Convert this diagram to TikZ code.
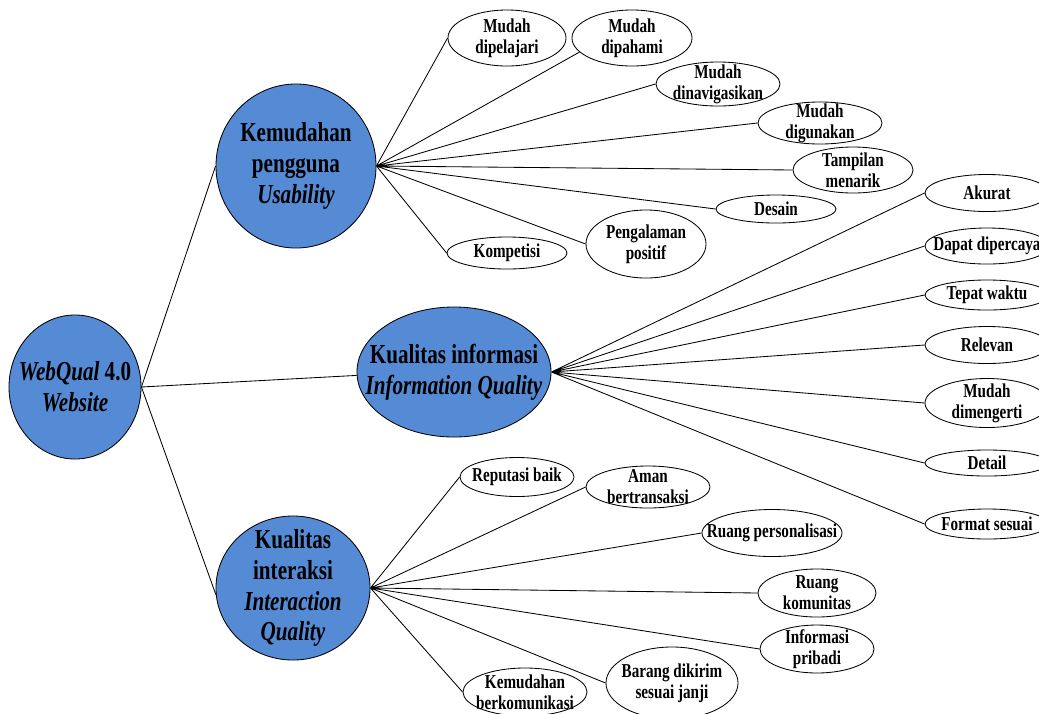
\documentclass[tikz,border=0pt]{standalone}
\usepackage{fontspec}
\setmainfont[FakeStretch=0.77]{Liberation Serif}
\usetikzlibrary{shapes.geometric}
\definecolor{topicblue}{RGB}{85,138,213}
\begin{document}
\begin{tikzpicture}[x=0.025cm,y=-0.025cm,line width=0.6pt,
        topic/.style={ellipse,draw,fill=topicblue,inner sep=-30pt,align=center,
            font=\fontsize{19.5}{22}\selectfont\bfseries},
        item/.style={ellipse,draw,fill=white,inner sep=-30pt,align=center,
            font=\fontsize{14}{15}\selectfont\bfseries}]
        % Fix page size
        \useasboundingbox (0,0) rectangle (1039,713);
        \clip (0,0) rectangle (1039,713);
        % Draw main topics
        \node[topic,minimum width=3.3cm,minimum height=3.6cm] (webqual) at (75,387) {\textit{WebQual} 4.0\\\textit{Website}};
        \node[topic,minimum width=4cm,minimum height=4.1cm] (usab) at (296,166) {Kemudahan\\pengguna\\\textit{Usability}};
        \node[topic,minimum width=4.85cm,minimum height=3.25cm] (info) at (454,372) {Kualitas informasi\\\textit{Information Quality}};
        \node[topic,minimum width=3.85cm,minimum height=3.6cm] (inter) at (293,588) {Kualitas\\interaksi\\\textit{Interaction}\\\textit{Quality}};
        % Draw usability items
        \node[item,minimum width=2.95cm,minimum height=1.4cm] (dipelajari) at (507,38) {Mudah\\dipelajari};
        \node[item,minimum width=3cm,minimum height=1.4cm] (dipahami) at (632,38) {Mudah\\dipahami};
        \node[item,minimum width=3.1cm,minimum height=1.1cm] (navigasi) at (718,84) {Mudah\\dinavigasikan};
        \node[item,minimum width=3.1cm,minimum height=1.05cm] (digunakan) at (820,123) {Mudah\\digunakan};
        \node[item,minimum width=3cm,minimum height=1.15cm] (tampilan) at (853,170) {Tampilan\\menarik};
        \node[item,minimum width=3cm,minimum height=0.7cm] (desain) at (776,209) {Desain};
        \node[item,minimum width=3cm,minimum height=1.7cm] (pengalaman) at (646,244) {Pengalaman\\positif};
        \node[item,minimum width=3cm,minimum height=0.8cm] (kompetisi) at (507,253) {Kompetisi};
        % Draw information items
        \node[item,minimum width=3.1cm,minimum height=0.925cm] (akurat) at (987,193) {Akurat};
        \node[item,minimum width=3.1cm,minimum height=0.9cm] (dipercaya) at (987,246) {Dapat dipercaya};
        \node[item,minimum width=3.1cm,minimum height=0.75cm] (tepat) at (987,295) {Tepat waktu};
        \node[item,minimum width=3.1cm,minimum height=0.925cm] (relevan) at (987,345) {Relevan};
        \node[item,minimum width=3.1cm,minimum height=1.225cm] (dimengerti) at (987,403) {Mudah\\dimengerti};
        \node[item,minimum width=3.1cm,minimum height=0.65cm] (detail) at (987,463) {Detail};
        \node[item,minimum width=3.1cm,minimum height=0.75cm] (format) at (987,524) {Format sesuai};
        % Draw interaction items
        \node[item,minimum width=2.85cm,minimum height=0.975cm] (reputasi) at (517,477) {Reputasi baik};
        \node[item,minimum width=3.1cm,minimum height=1.05cm] (aman) at (648,487) {Aman\\bertransaksi};
        \node[item,minimum width=3.5cm,minimum height=1.175cm] (personal) at (772,533) {Ruang personalisasi};
        \node[item,minimum width=2.95cm,minimum height=1.2cm] (komunitas) at (817,593) {Ruang\\komunitas};
        \node[item,minimum width=2.85cm,minimum height=1.2cm] (pribadi) at (817,649) {Informasi\\pribadi};
        \node[item,minimum width=3.3cm,minimum height=1.8cm] (barang) at (672,683) {Barang dikirim\\sesuai janji};
        \node[item,minimum width=3.1cm,minimum height=1.2cm] (komunikasi) at (525,692) {Kemudahan\\berkomunikasi};
        % Draw lines from root
        \draw (webqual.east) -- (usab.west) (webqual.east) -- (info.182) (webqual.east) -- (inter.185);
        % Draw lines to usability items
        \draw (usab.east) -- (dipelajari.west) (usab.east) -- (dipahami.195) (usab.east) -- (navigasi.west)
            (usab.east) -- (digunakan.west) (usab.east) -- (tampilan.west) (usab.east) -- (desain.west)
            (usab.east) -- (pengalaman.west) (usab.east) -- (kompetisi.west);
        % Draw lines to information items
        \draw (info.east) -- (akurat.west) (info.east) -- (dipercaya.west) (info.east) -- (tepat.west)
            (info.east) -- (relevan.west) (info.east) -- (dimengerti.west) (info.east) -- (detail.west)
            (info.east) -- (format.west);
        % Draw lines to interaction items
        \draw (inter.east) -- (reputasi.west) (inter.east) -- (aman.west) (inter.east) -- (personal.west)
            (inter.east) -- (komunitas.west) (inter.east) -- (pribadi.west) (inter.east) -- (barang.west)
            (inter.east) -- (komunikasi.west);
    \end{tikzpicture}
\end{document}
